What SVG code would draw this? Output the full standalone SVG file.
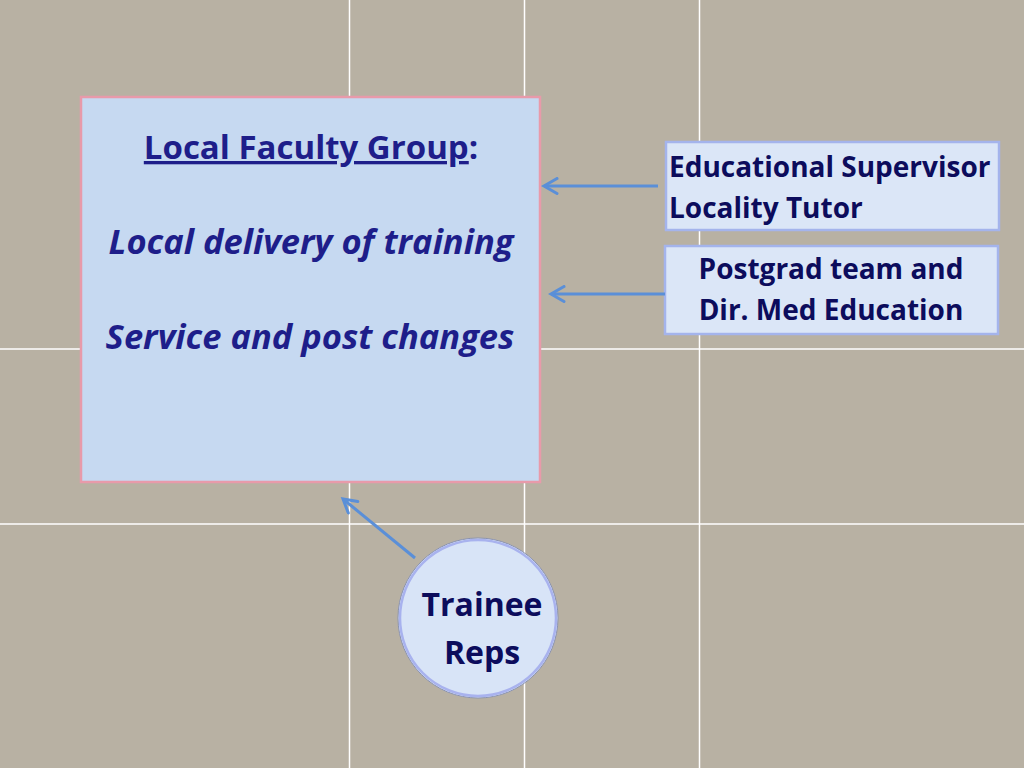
<svg xmlns="http://www.w3.org/2000/svg" width="1024" height="768" viewBox="0 0 1024 768">
<defs>
<style>
.t{font-family:"Open Sans",Lato,"Liberation Sans",sans-serif;font-weight:bold}
.title{fill:#1e1e8a;font-size:33px}
.main{fill:#1e1e8a;font-size:34.5px;font-style:italic}
.side{fill:#0c0c5c;font-size:28px}
.circ{fill:#0c0c5c;font-size:32px}
.grid{stroke:#ffffff;stroke-width:1.5}
.conn{stroke:#5a8fd8;stroke-width:3;fill:none}
.box{fill:#dbe6f7;stroke:#a4b4ec;stroke-width:2.5}
</style>
<marker id="ah" viewBox="0 0 18 18" refX="15" refY="9" markerWidth="18" markerHeight="18" markerUnits="userSpaceOnUse" orient="auto">
<path d="M2,1.5 L15,9 L2,16.5" fill="none" stroke="#5a8fd8" stroke-width="3" stroke-linecap="round"/>
</marker>
</defs>
<rect x="0" y="0" width="1024" height="768" fill="#b8b1a3"/>
<g id="grid">
<line class="grid" x1="349.5" y1="0" x2="349.5" y2="768"/>
<line class="grid" x1="524.5" y1="0" x2="524.5" y2="768"/>
<line class="grid" x1="699.5" y1="0" x2="699.5" y2="768"/>
<line class="grid" x1="0" y1="349" x2="1024" y2="349"/>
<line class="grid" x1="0" y1="524" x2="1024" y2="524"/>
</g>
<g id="lfg">
<rect x="81" y="97" width="459" height="385" fill="#c6d9f1" stroke="#e89aaa" stroke-width="2.5"/>
<text class="t title" x="311" y="159" text-anchor="middle"><tspan text-decoration="underline">Local Faculty Group</tspan>:</text>
<text class="t main" x="311" y="254" text-anchor="middle">Local delivery of training</text>
<text class="t main" x="310" y="349" text-anchor="middle">Service and post changes</text>
</g>
<g id="es">
<rect class="box" x="666" y="142" width="333" height="88"/>
<text class="t side" x="669" y="177">Educational Supervisor</text>
<text class="t side" x="669" y="218">Locality Tutor</text>
</g>
<g id="pg">
<rect class="box" x="665" y="246" width="333" height="88"/>
<text class="t side" x="831" y="279" text-anchor="middle">Postgrad team and</text>
<text class="t side" x="831" y="320" text-anchor="middle">Dir. Med Education</text>
</g>
<g id="tr">
<circle cx="478" cy="618" r="80" fill="#d8e4f7" stroke="#8a92b0" stroke-width="1"/>
<circle cx="478" cy="618" r="78" fill="none" stroke="#a8b2ee" stroke-width="2.5"/>
<text class="t circ" x="482" y="616" text-anchor="middle">Trainee</text>
<text class="t circ" x="482" y="664" text-anchor="middle">Reps</text>
</g>
<g id="connectors">
<line class="conn" x1="658" y1="186" x2="544" y2="186" marker-end="url(#ah)"/>
<line class="conn" x1="665" y1="294" x2="551" y2="294" marker-end="url(#ah)"/>
<line class="conn" x1="415" y1="558" x2="343" y2="499" marker-end="url(#ah)"/>
</g>
</svg>
